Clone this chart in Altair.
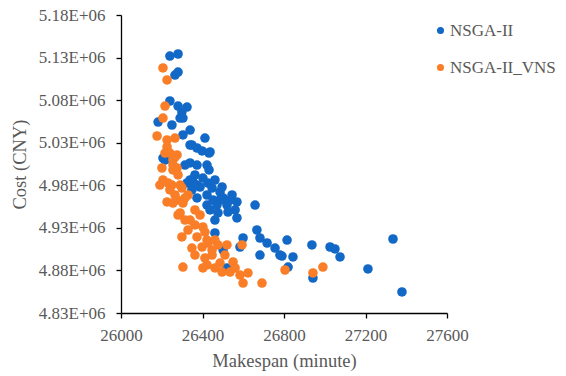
import altair as alt
import pandas as pd

series_names = ["NSGA-II", "NSGA-II_VNS"]

nsga_makespan = [26240, 26280, 26280, 26265, 26240, 26280, 26324, 26299, 26304, 26290,
                 26182, 26250, 26339, 26304, 26412, 26339, 26348, 26373, 26398, 26432,
                 26437, 26206, 26216, 26314, 26339, 26373, 26422, 26432, 26348, 26339,
                 26353, 26324, 26373, 26427, 26496, 26348, 26388, 26447, 26373, 26422,
                 26452, 26486, 26501, 26545, 26569, 26422, 26471, 26520, 26437, 26476,
                 26560, 26569, 26461, 26658, 26461, 26667, 26682, 26599, 26717, 26756,
                 26815, 26780, 26844, 26937, 26682, 26584, 26501, 26820, 26942, 26520,
                 26790, 27026, 27050, 27075, 27212, 27335, 27379,
                 26363, 26402, 26461, 26486, 26525, 26535]
nsga_cost = [5131800, 5134200, 5113000, 5109500, 5079000, 5073100, 5071900, 5066100, 5059000, 5059000,
             5054300, 5050800, 5044900, 5039100, 5035500, 5027300, 5027300, 5023800, 5020300, 5017900,
             5019100, 5012000, 5009700, 5003800, 5006200, 5003800, 5003800, 4998000, 4986200, 4986200,
             4983900, 4982700, 4980300, 4982700, 4978000, 4974500, 4978000, 4976800, 4965100, 4968600,
             4962700, 4972100, 4965100, 4968600, 4960400, 4956800, 4956800, 4956800, 4951000, 4947500,
             4951000, 4941600, 4939200, 4956800, 4924000, 4927500, 4918100, 4918100, 4912200, 4906300,
             4915700, 4898100, 4895800, 4909900, 4898100, 4907500, 4904000, 4884000, 4871100, 4882900,
             4896900, 4907500, 4905200, 4895800, 4881700, 4916900, 4854700,
             4992100, 4988500, 4986200, 4962700, 4948600, 4962700]

vns_makespan = [26206, 26226, 26216, 26206, 26177, 26226, 26265, 26226, 26216, 26240,
                26275, 26265, 26255, 26255, 26201, 26275, 26255, 26280, 26206, 26250,
                26290, 26191, 26231, 26299, 26329, 26226, 26275, 26304, 26255, 26290,
                26339, 26363, 26402, 26329, 26299, 26373, 26422, 26348, 26398, 26427,
                26476, 26520, 26594, 26447, 26412, 26447, 26486, 26550, 26496, 26535,
                26584, 26623, 26599, 26692, 26304, 26422, 26402, 26805, 26942, 26991,
                26240, 26265, 26314, 26363, 26388, 26314, 26412, 26461, 26363, 26510,
                26560, 26461, 26280]
vns_cost = [5117800, 5103700, 5073100, 5059000, 5037900, 5033200, 5035500, 5025000, 5017900, 5017900,
            5015600, 5013200, 5009700, 5003800, 5000300, 5000300, 4998000, 4992100, 4986200, 4980300,
            4980300, 4980300, 4982700, 4976800, 4968600, 4960400, 4962700, 4959200, 4959200, 4947500,
            4939200, 4933400, 4931000, 4927500, 4919300, 4919300, 4915700, 4906300, 4907500, 4912200,
            4909900, 4909900, 4909900, 4904000, 4894600, 4898100, 4888700, 4889900, 4878100, 4878100,
            4874600, 4877000, 4865200, 4865200, 4884000, 4886400, 4882900, 4880500, 4877000, 4884000,
            4974500, 4968600, 4965100, 4951000, 4945100, 4939200, 4925100, 4915700, 4898100, 4898100,
            4882900, 4882900, 4945100]

x_ticks = [26000, 26400, 26800, 27200, 27600]
y_ticks = [4830000, 4880000, 4930000, 4980000, 5030000, 5080000, 5130000, 5180000]

df = pd.concat([
    pd.DataFrame({"Makespan": nsga_makespan, "Cost": nsga_cost, "Series": series_names[0]}),
    pd.DataFrame({"Makespan": vns_makespan, "Cost": vns_cost, "Series": series_names[1]}),
], ignore_index=True)

FONT = "Liberation Serif"
GREY = "#595959"

chart = alt.Chart(df).mark_circle(size=92, opacity=1).encode(
    x=alt.X("Makespan:Q",
            scale=alt.Scale(domain=[26000, 27600], nice=False, zero=False),
            axis=alt.Axis(values=x_ticks, format="d", title="Makespan (minute)",
                          grid=False, domainColor="#000000", tickColor="#000000",
                          tickSize=5, labelPadding=9, titlePadding=8,
                          labelFontSize=17, titleFontSize=18.5, labelFlush=False,
                          labelFont=FONT, titleFont=FONT, labelColor=GREY,
                          titleColor=GREY, titleFontWeight="normal",
                          domainWidth=1.3, tickWidth=1.3)),
    y=alt.Y("Cost:Q",
            scale=alt.Scale(domain=[4830000, 5180000], nice=False, zero=False),
            axis=alt.Axis(values=y_ticks, title="Cost (CNY)",
                          labelExpr="replace(format(datum.value,'.2e'),'e+','E+0')",
                          grid=False, domainColor="#000000", tickColor="#000000",
                          tickSize=5, labelPadding=11, titlePadding=9,
                          labelFontSize=17, titleFontSize=18.5,
                          labelFont=FONT, titleFont=FONT, labelColor=GREY,
                          titleColor=GREY, titleFontWeight="normal",
                          domainWidth=1.3, tickWidth=1.3)),
    color=alt.Color("Series:N",
                    scale=alt.Scale(domain=series_names, range=["#1268C6", "#F97E27"]),
                    legend=alt.Legend(title=None, orient="none", legendX=311, legendY=7,
                                      symbolType="circle", symbolSize=50, labelFontSize=17,
                                      labelFont=FONT, labelColor=GREY,
                                      rowPadding=19, labelOffset=1, symbolStrokeWidth=0)),
    order=alt.Order("Series:N"),
).properties(
    width=326, height=298,
    background="white",
    autosize=alt.AutoSizeParams(type="none"),
    padding={"left": 121, "top": 15, "right": 119, "bottom": 63},
).configure_view(strokeWidth=0)

chart.save("out.html", embed_options={"renderer": "svg", "actions": False})
